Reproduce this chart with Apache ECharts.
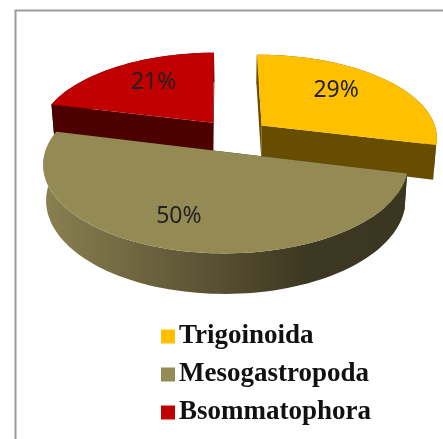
<!DOCTYPE html>
<html>
<head>
<meta charset="utf-8">
<title>Pie</title>
<script src="https://cdn.jsdelivr.net/npm/echarts@6/dist/echarts.min.js"></script>
<style>
html, body { margin: 0; padding: 0; background: #fff; overflow: hidden; }
#chart { width: 443px; height: 439px; }
</style>
</head>
<body>
<div id="chart"></div>
<script>
const categories = ['Trigoinoida', 'Mesogastropoda', 'Bsommatophora'];
const percents = [29, 50, 21];
const topColors = ['#FFC000', '#948A54', '#C00000'];
const sideColors = ['#664D00', '#3B3621', '#4D0000'];

// perspective of the pie, fitted by eye
const view = { cx: 234.5, cy: 135.5, a: 176, b: 82.8, k: 0.135, depth: 34, taper: 0.985, explode: 0.2, startAngle: -0.6 };
// where each percent label sits inside its slice: direction in degrees, distance from the tip
const labelDir = [45, 199, 325];
const labelDist = [0.66, 0.71, 0.66];

function rad(d) { return d * Math.PI / 180; }

function project(X, Y, lower) {
    let s = 1 / (1 + view.k * Y);
    let x = view.a * X * s;
    let y = view.cy - view.b * Y * s;
    if (lower) {
        x = x * view.taper;
        y = y + view.depth * s;
    }
    return [view.cx + x, y];
}

function sliceAngles(i) {
    let before = 0;
    for (let j = 0; j < i; j++) before += percents[j];
    let from = view.startAngle + before * 3.6;
    return { from: from, to: from + percents[i] * 3.6 };
}

function renderSlice(i, api) {
    let value = api.value(0);
    let ang = sliceAngles(i);
    let mid = rad((ang.from + ang.to) / 2);
    let ox = view.explode * Math.sin(mid);
    let oy = view.explode * Math.cos(mid);

    let rimAngles = [];
    for (let t = ang.from; t < ang.to; t += 2) rimAngles.push(t);
    rimAngles.push(ang.to);
    let edge = rimAngles.map(t => [ox + Math.sin(rad(t)), oy + Math.cos(rad(t))]);

    let tipTop = project(ox, oy, false);
    let tipLow = project(ox, oy, true);
    let first = edge[0];
    let last = edge[edge.length - 1];

    let rimFill = sideColors[i];
    if (i === 1) {
        rimFill = new echarts.graphic.LinearGradient(0, 0, 1, 0, [
            { offset: 0, color: '#8A8050' },
            { offset: 0.35, color: '#655C3A' },
            { offset: 0.72, color: '#3D3822' },
            { offset: 1, color: '#3B3621' }
        ]);
    }

    let top = [tipTop].concat(edge.map(p => project(p[0], p[1], false)));
    let rim = edge.map(p => project(p[0], p[1], false))
        .concat(edge.slice().reverse().map(p => project(p[0], p[1], true)));
    let faceA = [tipTop, project(first[0], first[1], false), project(first[0], first[1], true), tipLow];
    let faceB = [tipTop, project(last[0], last[1], false), project(last[0], last[1], true), tipLow];

    let lx = ox + labelDist[i] * Math.sin(rad(labelDir[i]));
    let ly = oy + labelDist[i] * Math.cos(rad(labelDir[i]));
    let labelAt = project(lx, ly, false);

    return {
        type: 'group',
        children: [
            { type: 'polygon', shape: { points: faceA }, style: { fill: sideColors[i] } },
            { type: 'polygon', shape: { points: faceB }, style: { fill: sideColors[i] } },
            { type: 'polygon', shape: { points: rim }, style: { fill: rimFill } },
            { type: 'polygon', shape: { points: top }, style: { fill: topColors[i] } },
            {
                type: 'text',
                x: labelAt[0],
                y: labelAt[1],
                style: {
                    text: value + '%',
                    fill: '#222222',
                    font: '23px "Noto Sans"',
                    align: 'center',
                    verticalAlign: 'middle'
                }
            }
        ]
    };
}

let chart = echarts.init(document.getElementById('chart'), null, { renderer: 'canvas' });

let options = {
    animation: false,
    backgroundColor: '#ffffff',
    legend: {
        data: categories,
        orient: 'vertical',
        left: 161,
        top: 323,
        itemWidth: 14,
        itemHeight: 14,
        itemGap: 11,
        icon: 'rect',
        padding: 0,
        textStyle: {
            fontFamily: 'Liberation Serif',
            fontWeight: 'bold',
            fontSize: 27,
            color: '#111111',
            padding: [0, 0, 0, -1]
        }
    },
    graphic: [{
        type: 'polyline',
        shape: { points: [[15.5, 439], [15.5, 10.5], [443, 10.5]] },
        style: { stroke: '#9C9C9C', lineWidth: 2, fill: null }
    }],
    series: categories.map((name, i) => ({
        type: 'custom',
        name: name,
        coordinateSystem: 'none',
        z: i === 1 ? 4 : 2,
        itemStyle: { color: topColors[i] },
        data: [[percents[i]]],
        renderItem: (params, api) => renderSlice(i, api)
    }))
};

chart.setOption(options);
</script>
</body>
</html>
